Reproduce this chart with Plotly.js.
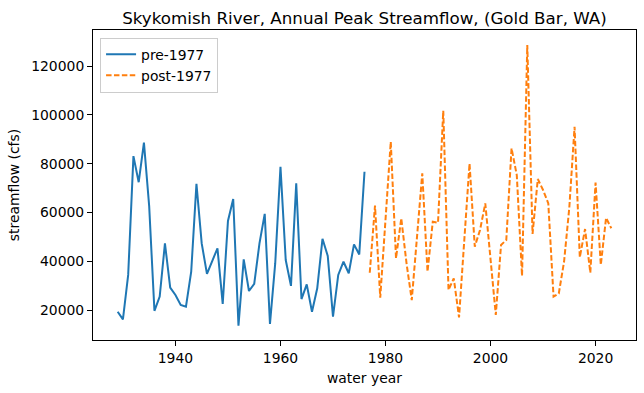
<!DOCTYPE html>
<html>
<head>
<meta charset="utf-8">
<script src="https://cdn.plot.ly/plotly-3.0.1.min.js"></script>
<style>html,body{margin:0;padding:0;background:#fff}#chart{width:644px;height:393px}</style>
</head>
<body>
<div id="chart"></div>
<script>
const preYears = [1929,1930,1931,1932,1933,1934,1935,1936,1937,1938,1939,1940,1941,1942,1943,1944,1945,1946,1947,1948,1949,1950,1951,1952,1953,1954,1955,1956,1957,1958,1959,1960,1961,1962,1963,1964,1965,1966,1967,1968,1969,1970,1971,1972,1973,1974,1975,1976];
const preFlow = [19300,16200,34400,83100,72400,88600,62500,19700,25500,47300,29200,26200,22100,21400,35700,71700,47300,34800,40100,45300,22500,56500,65500,13600,40800,27800,30700,47300,59400,14300,39200,78700,40500,29900,71900,24500,30500,19300,28900,49200,42200,17300,34400,39800,35100,46900,42800,76700];
const postYears = [1977,1978,1979,1980,1981,1982,1983,1984,1985,1986,1987,1988,1989,1990,1991,1992,1993,1994,1995,1996,1997,1998,1999,2000,2001,2002,2003,2004,2005,2006,2007,2008,2009,2010,2011,2012,2013,2014,2015,2016,2017,2018,2019,2020,2021,2022,2023];
const postFlow = [35300,62800,25100,55000,89000,41200,57600,39200,24100,50000,76000,35700,56200,55800,101700,28200,33000,17000,47000,80100,46000,52800,63700,42000,18000,46700,48700,86300,75300,34000,128600,51200,73700,69200,63700,25500,26800,39800,62000,95100,41600,53200,35300,72200,38500,57800,53500];

const font = {family: 'DejaVu Sans, sans-serif', size: 13.9, color: '#000'};

const traces = [
  {x: preYears, y: preFlow, type: 'scatter', mode: 'lines', name: 'pre-1977',
   line: {color: '#1f77b4', width: 2}},
  {x: postYears, y: postFlow, type: 'scatter', mode: 'lines', name: 'post-1977',
   line: {color: '#ff7f0e', width: 2, dash: '5.5px,2.4px'}}
];

const layout = {
  width: 644, height: 393,
  margin: {l: 93, r: 8, t: 30, b: 53},
  paper_bgcolor: '#fff', plot_bgcolor: '#fff',
  font: font,
  showlegend: true,
  title: {text: 'Skykomish River, Annual Peak Streamflow, (Gold Bar, WA)',
          font: {family: 'DejaVu Sans, sans-serif', size: 16.7, color: '#000'},
          x: 0.5, xanchor: 'center', xref: 'paper', y: 1, yref: 'paper', yanchor: 'bottom', pad: {b: 6}},
  xaxis: {
    range: [1924.3, 2027.7], tickvals: [1940,1960,1980,2000,2020],
    showgrid: false, zeroline: false, showline: true, mirror: true, linecolor: '#000', linewidth: 1,
    ticks: 'outside', ticklen: 5, tickwidth: 1, tickcolor: '#000',
    tickfont: font,
    title: {text: 'water year', font: font, standoff: 8}
  },
  yaxis: {
    range: [7725, 134775], tickvals: [20000,40000,60000,80000,100000,120000],
    tickformat: 'd',
    showgrid: false, zeroline: false, showline: true, mirror: true, linecolor: '#000', linewidth: 1,
    ticks: 'outside', ticklen: 5, tickwidth: 1, tickcolor: '#000',
    tickfont: font,
    title: {text: 'streamflow (cfs)', font: font, standoff: 8}
  },
  legend: {
    x: 0.013, y: 0.975, xanchor: 'left', yanchor: 'top',
    bgcolor: 'rgba(255,255,255,0.8)', bordercolor: '#cccccc', borderwidth: 1,
    font: font, tracegroupgap: 0
  }
};

Plotly.newPlot('chart', traces, layout, {displayModeBar: false, staticPlot: true});
</script>
</body>
</html>
